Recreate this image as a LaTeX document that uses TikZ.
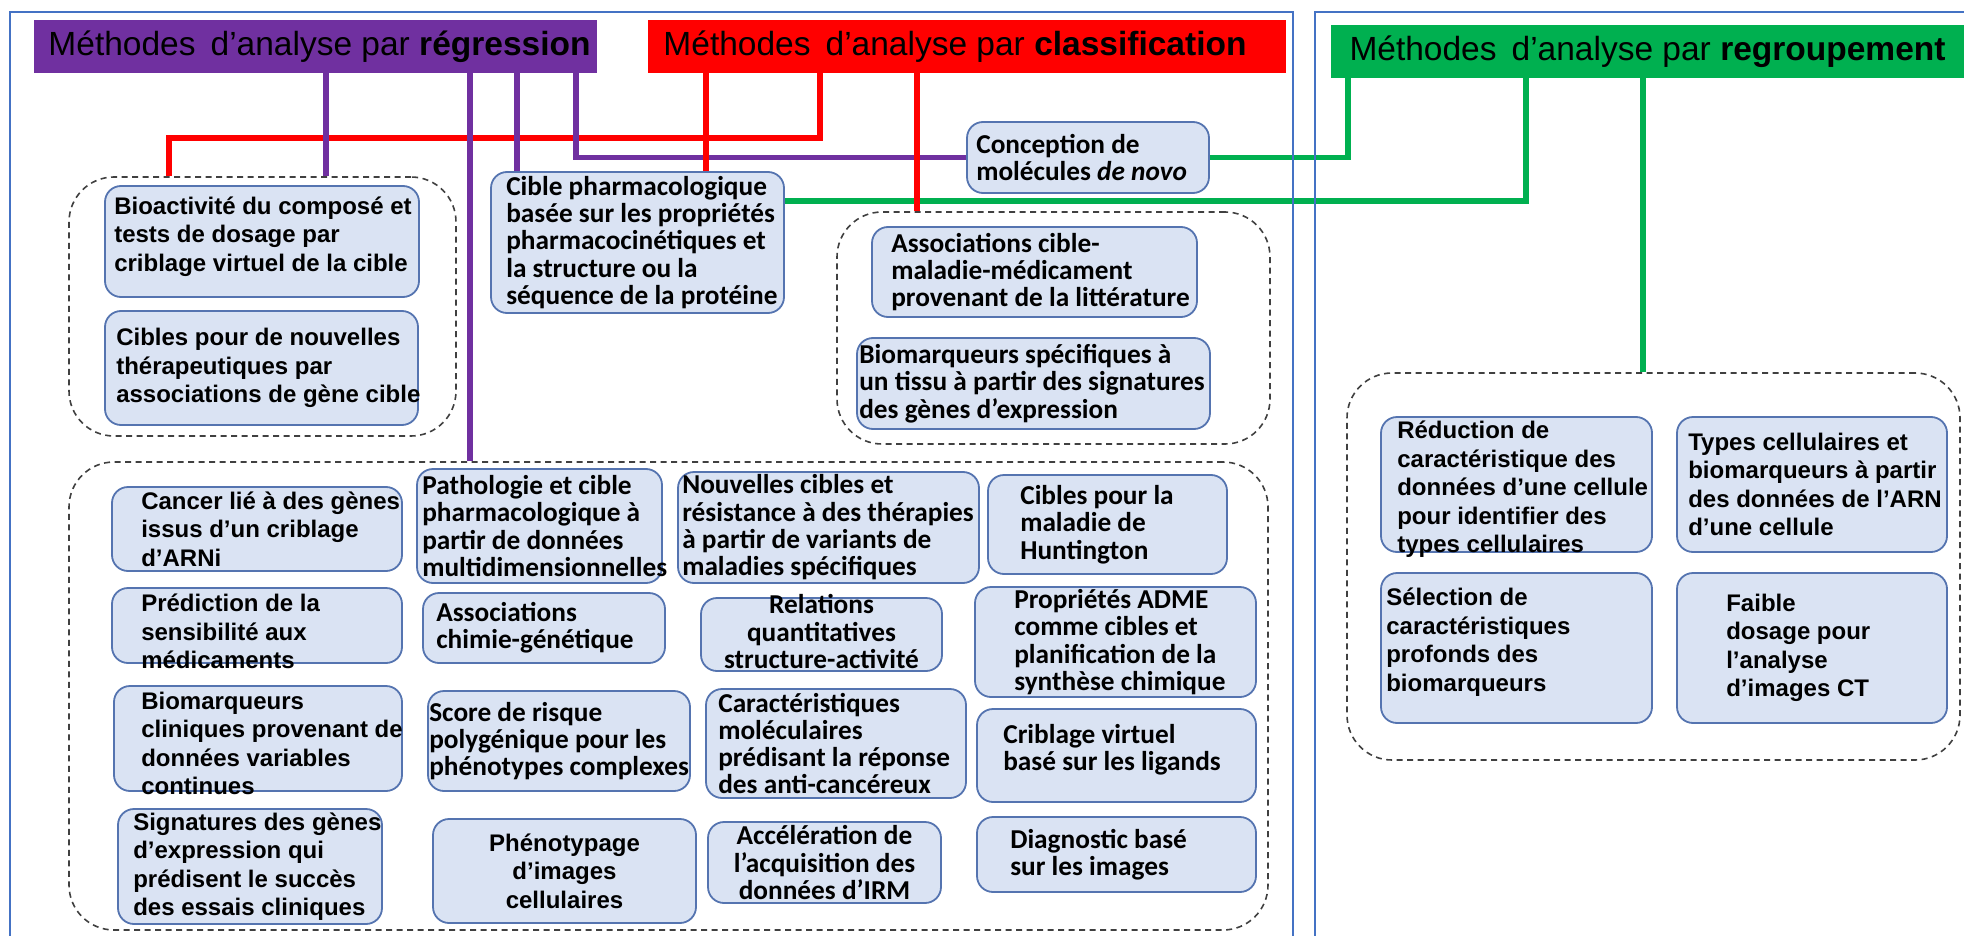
\documentclass[tikz,border=0pt]{standalone}
\usepackage{fontspec}
\setmainfont{Liberation Sans}
\newfontfamily\fA{Liberation Sans}
\newfontfamily\fB{Carlito}
\usetikzlibrary{calc}
\definecolor{cpur}{HTML}{7030A0}
\definecolor{cred}{HTML}{FF0000}
\definecolor{cgrn}{HTML}{00B050}
\definecolor{bfill}{HTML}{DAE3F3}
\definecolor{bdraw}{HTML}{5574B0}
\definecolor{pan}{HTML}{4472C4}
\tikzset{
 box/.style={draw=bdraw, fill=bfill, line width=1.8pt, rounded corners=16pt, inner sep=0pt},
 dbox/.style={draw=black!75, line width=1.6pt, dash pattern=on 6pt off 4.5pt, rounded corners=45pt, inner sep=0pt},
 ta/.style={font=\fA\bfseries\fontsize{24}{28.5}\selectfont, align=left, inner sep=0pt},
 tb/.style={font=\fB\bfseries\fontsize{27.3}{27.3}\selectfont, align=left, inner sep=0pt},
 hdr/.style={inner sep=0pt, font=\fA\fontsize{33.5}{40}\selectfont, text=black},
 pl/.style={draw=cpur, line width=5.5pt},
 rl/.style={draw=cred, line width=5.5pt},
 gl/.style={draw=cgrn, line width=5.5pt},
 panel/.style={draw=pan, line width=1.4pt},
}
\newcommand{\rbox}[6]{%
 \pgfmathsetmacro{\bxw}{#4-#2}%
 \pgfmathsetmacro{\bxh}{#5-#3}%
 \pgfmathsetmacro{\bxx}{(#2+#4)/2}%
 \pgfmathsetmacro{\bxy}{(#3+#5)/2}%
 \node[#6, minimum width=\bxw pt, minimum height=\bxh pt] (#1) at (\bxx,\bxy) {};}
\newcommand{\ltext}[4][]{\node[#1, anchor=west] (#2t) at ($(#2.west)+(#3,0)$) {#4};}
\newcommand{\ctext}[3][]{\node[#1, anchor=center] (#2t) at (#2.center) {#3};}
\begin{document}
\begin{tikzpicture}[x=1pt,y=-1pt]
\useasboundingbox (0,0) rectangle (1964,936);
% dashed groups
\rbox{d1}{69}{177}{456}{436}{dbox}
\rbox{d2}{837}{212}{1270}{444}{dbox}
\rbox{d3}{69}{462}{1268}{930}{dbox}
\rbox{d4}{1347}{373}{1960}{760}{dbox}
% boxes
\rbox{bio}{105}{186}{419}{297}{box}
\rbox{cnv}{105}{311}{418}{425}{box}
\rbox{cib}{491}{172}{784}{313}{box}
\rbox{con}{967}{122}{1209}{193}{box}
\rbox{asc}{872}{227}{1197}{317}{box}
\rbox{bsp}{857}{338}{1210}{429}{box}
\rbox{can}{112}{487}{402}{571}{box}
\rbox{pat}{417}{469}{662}{583}{box}
\rbox{nou}{678}{472}{979}{583}{box}
\rbox{hun}{988}{475}{1227}{574}{box}
\rbox{pre}{112}{588}{402}{663}{box}
\rbox{asch}{423}{593}{665}{663}{box}
\rbox{rel}{701}{598}{942}{671}{box}
\rbox{adm}{975}{587}{1256}{697}{box}
\rbox{bcl}{114}{686}{402}{791}{box}
\rbox{sco}{428}{691}{690}{791}{box}
\rbox{car}{706}{689}{966}{798}{box}
\rbox{cri}{977}{709}{1256}{802}{box}
\rbox{sig}{118}{809}{382}{924}{box}
\rbox{phe}{433}{819}{696}{923}{box}
\rbox{acc}{708}{822}{941}{903}{box}
\rbox{dia}{977}{817}{1256}{892}{box}
\rbox{red}{1381}{417}{1652}{552}{box}
\rbox{typ}{1677}{417}{1947}{552}{box}
\rbox{sel}{1381}{573}{1652}{723}{box}
\rbox{fai}{1677}{573}{1947}{723}{box}
% texts
\ltext[ta,yshift=5pt]{bio}{10}{Bioactivité du composé et\\tests de dosage par\\criblage virtuel de la cible}
\ltext[ta]{cnv}{12}{Cibles pour de nouvelles\\thérapeutiques par\\associations de gène cible}
\ltext[tb]{cib}{16}{Cible pharmacologique\\basée sur les propriétés\\pharmacocinétiques et\\la structure ou la\\séquence de la protéine}
\ltext[tb]{con}{10}{Conception de\\molécules \textit{de novo}}
\ltext[tb]{asc}{20}{Associations cible-\\maladie-médicament\\provenant de la littérature}
\ltext[tb]{bsp}{3}{Biomarqueurs spécifiques à\\un tissu à partir des signatures\\des gènes d’expression}
\ltext[ta]{can}{30}{Cancer lié à des gènes\\issus d’un criblage\\d’ARNi}
\ltext[tb]{pat}{6}{Pathologie et cible\\pharmacologique à\\partir de données\\multidimensionnelles}
\ltext[tb]{nou}{5}{Nouvelles cibles et\\résistance à des thérapies\\à partir de variants de\\maladies spécifiques}
\ltext[tb]{hun}{33}{Cibles pour la\\maladie de\\Huntington}
\ltext[ta,yshift=-6pt]{pre}{30}{Prédiction de la\\sensibilité aux\\médicaments}
\ltext[tb]{asch}{14}{Associations\\chimie-génétique}
\ctext[tb,align=center,yshift=3pt]{rel}{Relations\\quantitatives\\structure-activité}
\ltext[tb]{adm}{40}{Propriétés ADME\\comme cibles et\\planification de la\\synthèse chimique}
\ltext[ta,yshift=-5pt]{bcl}{28}{Biomarqueurs\\cliniques provenant de\\données variables\\continues}
\ltext[tb]{sco}{2}{Score de risque\\polygénique pour les\\phénotypes complexes}
\ltext[tb]{car}{13}{Caractéristiques\\moléculaires\\prédisant la réponse\\des anti-cancéreux}
\ltext[tb,yshift=6pt]{cri}{27}{Criblage virtuel\\basé sur les ligands}
\ltext[ta]{sig}{16}{Signatures des gènes\\d’expression qui\\prédisent le succès\\des essais cliniques}
\ctext[ta,align=center]{phe}{Phénotypage\\d’images\\cellulaires}
\ctext[tb,align=center]{acc}{Accélération de\\l’acquisition des\\données d’IRM}
\ltext[tb]{dia}{34}{Diagnostic basé\\sur les images}
\ltext[ta,yshift=-5pt]{red}{17}{Réduction de\\caractéristique des\\données d’une cellule\\pour identifier des\\types cellulaires}
\ltext[ta]{typ}{12}{Types cellulaires et\\biomarqueurs à partir\\des données de l’ARN\\d’une cellule}
\ltext[ta,yshift=6pt]{sel}{6}{Sélection de\\caractéristiques\\profonds des\\biomarqueurs}
\ltext[ta]{fai}{50}{Faible\\dosage pour\\l’analyse\\d’images CT}
% headers
\node[hdr, fill=cpur, minimum width=563pt, minimum height=53pt] (hp) at (315.5,46.5) {\hspace*{8pt}Méthodes\hspace{0.45em}d’analyse par \textbf{régression}};
\node[hdr, fill=cred, minimum width=638pt, minimum height=53pt] (hr) at (967,46.5) {Méthodes\hspace{0.45em}d’analyse par \textbf{classification}\hspace*{24pt}};
\node[hdr, fill=cgrn, minimum width=633pt, minimum height=53pt] (hg) at (1647.5,51.5) {Méthodes\hspace{0.45em}d’analyse par \textbf{regroupement}};
% connectors
\draw[gl] (con.east) -| (1348,0 |- hg.south);
\draw[gl] (cib.east |- 0,201) -| (1526,0 |- hg.south);
\draw[gl] (1643,0 |- hg.south) -- (1643,0 |- d4.north);
\draw[rl] (820,0 |- hr.south) |- (169,138) -- (169,0 |- d1.north);
\draw[pl] (326,0 |- hp.south) -- (326,0 |- d1.north);
\draw[pl] (470,0 |- hp.south) -- (470,0 |- d3.north);
\draw[pl] (517,0 |- hp.south) -- (517,0 |- cib.north);
\draw[pl] (576,0 |- hp.south) |- (con.west);
\draw[rl] (706,0 |- hr.south) -- (706,0 |- cib.north);
\draw[rl] (917,0 |- hr.south) -- (917,0 |- d2.north);
% panels
\draw[panel] (10,945) -- (10,12) -- (1293,12) -- (1293,945);
\draw[panel] (1315,945) -- (1315,12) -- (1975,12);
\end{tikzpicture}
\end{document}
